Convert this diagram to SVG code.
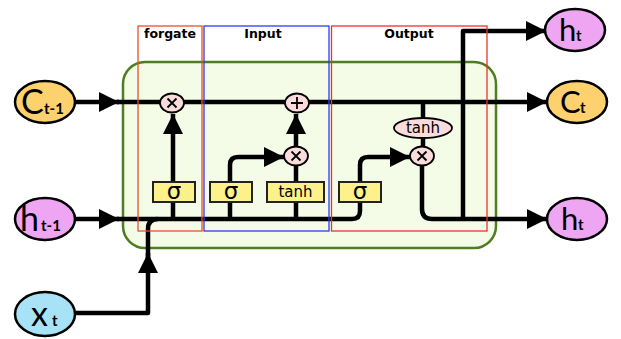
<svg xmlns="http://www.w3.org/2000/svg" width="621" height="339" viewBox="0 0 621 339">
<style>
.ln{fill:none;stroke:#000;stroke-width:4.5;stroke-linejoin:round}
.arr{marker-end:url(#ah)}
.nodeC{fill:#fdd26e;stroke:#000;stroke-width:2.5}
.nodeH{fill:#eea6f2;stroke:#000;stroke-width:2.5}
.nodeX{fill:#a8e2f6;stroke:#000;stroke-width:2.5}
.big{font-family:Lato,"DejaVu Sans",sans-serif;font-size:34px;fill:#000}
.bigR{font-family:Lato,"DejaVu Sans",sans-serif;font-size:31px;fill:#000}
.sub{font-family:Lato,"DejaVu Sans",sans-serif;font-size:15px;font-weight:bold;fill:#000}
.op{fill:#fbdcdc;stroke:#000;stroke-width:1.8}
.gate{fill:#fdf18c;stroke:#222;stroke-width:2}
.gt{font-family:"DejaVu Sans",sans-serif;font-size:15px;fill:#000;text-anchor:middle}
.sg{font-family:"DejaVu Sans",sans-serif;font-size:23px;fill:#000;text-anchor:middle}
.lbl{font-family:"DejaVu Sans",sans-serif;font-size:12.5px;font-weight:bold;fill:#000;text-anchor:middle}
.sym{stroke:#000;stroke-width:1.8;fill:none}
</style>
<defs>
<marker id="ah" viewBox="0 0 20 20" refX="20" refY="10" markerWidth="20" markerHeight="20" markerUnits="userSpaceOnUse" orient="auto">
<path d="M0,0 L20,10 L0,20 z" fill="#000"/>
</marker>
</defs>
<rect x="123" y="62" width="373" height="186" rx="22" ry="22" fill="#f4fbe6" stroke="#4e7d22" stroke-width="2.5"/>
<g id="connectors">
<path class="ln arr" d="M75 102 H119"/>
<path class="ln arr" d="M117 102 H547"/>
<path class="ln arr" d="M75 219 H119"/>
<path class="ln arr" d="M117 219 H352 Q360 219 360 211 V165 Q360 157 368 157 H410"/>
<path class="ln arr" d="M75 313 H148 V253"/>
<path class="ln" d="M148 260 V229 Q148 219 158 219"/>
<path class="ln arr" d="M173 219 V114"/>
<path class="ln arr" d="M230 219 V165 Q230 157 238 157 H284"/>
<path class="ln" d="M296 219 V165"/>
<path class="ln arr" d="M296 147 V114"/>
<path class="ln" d="M423 102 V118"/>
<path class="ln" d="M423 138 V147"/>
<path class="ln arr" d="M422 165 V209 Q422 219 432 219 H547"/>
<path class="ln arr" d="M463 219 V31 H546"/>
</g>
<g id="frames" fill="none" stroke-width="1.3">
<rect x="138" y="26" width="64" height="205" stroke="#e8502a"/>
<rect x="204" y="26" width="125" height="205" stroke="#2b3cf0"/>
<rect x="331.5" y="26" width="155.5" height="205" stroke="#f03030"/>
<text class="lbl" x="170" y="38">forgate</text>
<text class="lbl" x="263" y="38">Input</text>
<text class="lbl" x="409" y="38">Output</text>
</g>
<g id="mul-forget"><ellipse class="op" cx="172" cy="103" rx="12" ry="9.5"/><path class="sym" d="M167.5 98.5 L176.5 107.5 M176.5 98.5 L167.5 107.5"/></g>
<g id="add"><ellipse class="op" cx="297" cy="103" rx="12" ry="9.5"/><path class="sym" d="M291 103 H303 M297 97 V109"/></g>
<g id="mul-input"><ellipse class="op" cx="296" cy="156" rx="12" ry="9.5"/><path class="sym" d="M291.5 151.5 L300.5 160.5 M300.5 151.5 L291.5 160.5"/></g>
<g id="mul-output"><ellipse class="op" cx="422" cy="156" rx="12" ry="9.5"/><path class="sym" d="M417.5 151.5 L426.5 160.5 M426.5 151.5 L417.5 160.5"/></g>
<g id="tanh-out"><ellipse class="op" cx="423" cy="128" rx="29" ry="10"/><text class="gt" x="423" y="133">tanh</text></g>
<g id="sig-forget"><rect class="gate" x="153" y="182" width="42" height="20"/><text class="sg" x="174" y="199">σ</text></g>
<g id="sig-input"><rect class="gate" x="210" y="182" width="42" height="20"/><text class="sg" x="231" y="199">σ</text></g>
<g id="tanh-input"><rect class="gate" x="267" y="182" width="57" height="20"/><text class="gt" x="295.5" y="197">tanh</text></g>
<g id="sig-output"><rect class="gate" x="339" y="182" width="42" height="20"/><text class="sg" x="360" y="199">σ</text></g>
<g id="c-prev"><ellipse class="nodeC" cx="45" cy="102" rx="30" ry="21"/><text class="big" x="21" y="114">C</text><text class="sub" x="44" y="114">t-1</text></g>
<g id="h-prev"><ellipse class="nodeH" cx="45" cy="219" rx="30" ry="21"/><text class="big" x="20" y="231">h</text><text class="sub" x="41" y="231">t-1</text></g>
<g id="x-t"><ellipse class="nodeX" cx="45" cy="314" rx="30" ry="22"/><text class="big" x="31" y="326">x</text><text class="sub" x="52" y="326">t</text></g>
<g id="h-top"><ellipse class="nodeH" cx="575" cy="30" rx="30" ry="21"/><text class="bigR" x="559" y="41">h</text><text class="sub" x="576" y="41">t</text></g>
<g id="c-t"><ellipse class="nodeC" cx="577" cy="102" rx="30" ry="21"/><text class="bigR" x="560" y="113">C</text><text class="sub" x="580" y="113">t</text></g>
<g id="h-t"><ellipse class="nodeH" cx="577" cy="219" rx="30" ry="21"/><text class="bigR" x="561" y="230">h</text><text class="sub" x="578" y="230">t</text></g>
</svg>
